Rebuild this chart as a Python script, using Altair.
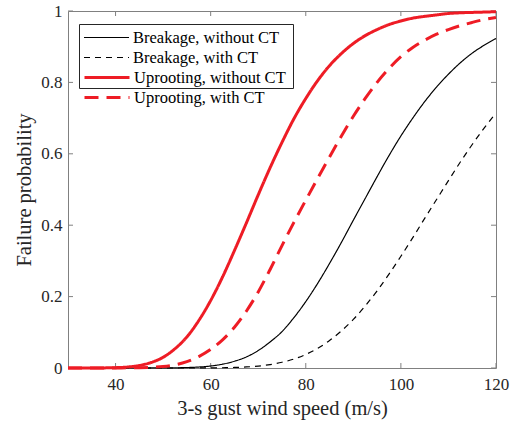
import altair as alt
import pandas as pd

# ---------------- data ----------------
speed = [30, 32.5, 35, 37.5, 40, 42.5, 45, 47.5, 50, 52.5, 55, 57.5, 60, 62.5,
         65, 67.5, 70, 72.5, 75, 77.5, 80, 82.5, 85, 87.5, 90, 92.5, 95, 97.5,
         100, 102.5, 105, 107.5, 110, 112.5, 115, 117.5, 120]

breakage_without_ct = [0, 0, 0, 0, 0, 0, 0, 0.0001, 0.0002, 0.0005, 0.0012, 0.0027,
                       0.0056, 0.0107, 0.019, 0.031, 0.049, 0.073, 0.102, 0.141, 0.186,
                       0.237, 0.293, 0.352, 0.414, 0.475, 0.536, 0.595, 0.650, 0.700,
                       0.746, 0.787, 0.823, 0.855, 0.882, 0.904, 0.923]

breakage_with_ct = [0, 0, 0, 0, 0, 0, 0, 0, 0, 0, 0, 0.0001, 0.0003, 0.0007, 0.0015,
                    0.0029, 0.0054, 0.0095, 0.016, 0.025, 0.038, 0.055, 0.077, 0.104,
                    0.136, 0.174, 0.216, 0.263, 0.313, 0.365, 0.419, 0.472, 0.525,
                    0.577, 0.626, 0.672, 0.714]

uprooting_without_ct = [0, 0, 0.0001, 0.0003, 0.001, 0.0028, 0.0071, 0.0155, 0.030,
                        0.054, 0.087, 0.133, 0.189, 0.255, 0.329, 0.406, 0.485,
                        0.561, 0.632, 0.698, 0.755, 0.805, 0.847, 0.881, 0.909,
                        0.931, 0.948, 0.962, 0.972, 0.980, 0.985, 0.989, 0.993,
                        0.995, 0.996, 0.997, 0.998]

uprooting_with_ct = [0, 0, 0, 0, 0.0002, 0.0005, 0.001, 0.002, 0.004, 0.009, 0.018,
                     0.032, 0.052, 0.079, 0.114, 0.159, 0.213, 0.276, 0.343, 0.408,
                     0.470, 0.531, 0.591, 0.650, 0.705, 0.755, 0.800, 0.839, 0.872,
                     0.898, 0.918, 0.935, 0.948, 0.959, 0.968, 0.976, 0.982]

series_names = ["Breakage, without CT", "Breakage, with CT",
                "Uprooting, without CT", "Uprooting, with CT"]

x_ticks = [40, 60, 80, 100, 120]
y_ticks = [0, 0.2, 0.4, 0.6, 0.8, 1]

# ---------------- tables ----------------
rows = []
for name, vals in zip(series_names, [breakage_without_ct, breakage_with_ct,
                                     uprooting_without_ct, uprooting_with_ct]):
    for s, v in zip(speed, vals):
        rows.append({"speed": s, "p": v, "series": name})
df = pd.DataFrame(rows)
xt = pd.DataFrame({"speed": x_ticks})
yt = pd.DataFrame({"p": y_ticks})

W, H = 428, 357
FONT = "Liberation Serif"
TXT = "#262626"
FRAME = "#808080"
RED = "#EE1C25"
black_names = series_names[:2]
red_names = series_names[2:]

x_enc = alt.X("speed:Q", scale=alt.Scale(domain=[30, 120], nice=False, zero=False),
              axis=alt.Axis(values=x_ticks, domain=False, ticks=False, grid=False,
                            labelFlush=False, labelOverlap=False, labelPadding=8,
                            labelFont=FONT, labelFontSize=17, labelColor=TXT,
                            title="3-s gust wind speed (m/s)", titleFont=FONT,
                            titleFontSize=20.5, titleFontWeight="normal",
                            titleColor=TXT, titlePadding=6))
y_enc = alt.Y("p:Q", scale=alt.Scale(domain=[0, 1], nice=False),
              axis=alt.Axis(values=y_ticks, domain=False, ticks=False, grid=False,
                            labelFlush=False, labelOverlap=False, labelPadding=6,
                            labelFont=FONT, labelFontSize=17, labelColor=TXT,
                            labelExpr="datum.value == 0 ? '0' : datum.value == 1 ? '1' : format(datum.value, '.1f')",
                            title="Failure probability", titleFont=FONT,
                            titleFontSize=20.5, titleFontWeight="normal",
                            titleColor=TXT, titlePadding=6))

common = dict(title=None, orient="none", legendX=11, symbolType="stroke",
              symbolSize=2025, labelFont=FONT, labelFontSize=16.5,
              labelColor="#000000", labelOffset=3, padding=4, rowPadding=1,
              clipHeight=19, labelLimit=300)
leg_black = alt.Legend(legendY=13, symbolStrokeWidth=1.2, **common)
leg_red = alt.Legend(legendY=53, symbolStrokeWidth=3, **common)
# the box around the legend: an entry-less frame of the same size
leg_frame = alt.Legend(title=None, orient="none", legendX=11, legendY=13,
                       symbolType="stroke", symbolSize=2025, symbolOpacity=0,
                       labelExpr="''", labelOffset=162, labelFontSize=16.5,
                       padding=2.3, rowPadding=1, clipHeight=19,
                       strokeColor="#262626")

base = alt.Chart(df)
black = base.transform_filter(
    alt.FieldOneOfPredicate(field="series", oneOf=black_names)
).mark_line(interpolate="monotone", strokeWidth=1.2).encode(
    x=x_enc, y=y_enc,
    color=alt.Color("series:N", scale=alt.Scale(domain=black_names,
                    range=["#000000", "#000000"]), legend=leg_black),
    strokeDash=alt.StrokeDash("series:N", scale=alt.Scale(domain=black_names,
                    range=[[1, 0], [6, 5]]), legend=leg_black),
)
red = base.transform_filter(
    alt.FieldOneOfPredicate(field="series", oneOf=red_names)
).mark_line(interpolate="monotone", strokeWidth=3).encode(
    x=x_enc, y=y_enc,
    color=alt.Color("series:N", scale=alt.Scale(domain=red_names,
                    range=[RED, RED]), legend=leg_red),
    strokeDash=alt.StrokeDash("series:N", scale=alt.Scale(domain=red_names,
                    range=[[1, 0], [14, 8]]), legend=leg_red),
)
frame = base.mark_line(strokeWidth=0).encode(
    x=x_enc, y=y_enc,
    opacity=alt.Opacity("series:N", scale=alt.Scale(domain=series_names,
                        range=[0, 0]), legend=leg_frame),
)

tick_style = dict(color=FRAME, strokeWidth=1)
xb = alt.Chart(xt).mark_rule(**tick_style).encode(x=x_enc, y=alt.value(H), y2=alt.value(H - 5))
xtop = alt.Chart(xt).mark_rule(**tick_style).encode(x=x_enc, y=alt.value(0), y2=alt.value(5))
yl = alt.Chart(yt).mark_rule(**tick_style).encode(y=y_enc, x=alt.value(0), x2=alt.value(5))
yr = alt.Chart(yt).mark_rule(**tick_style).encode(y=y_enc, x=alt.value(W - 5), x2=alt.value(W))

chart = alt.layer(xb, xtop, yl, yr, frame, black, red).resolve_scale(
    color="independent", strokeDash="independent", opacity="independent"
).properties(
    width=W, height=H,
    autosize=alt.AutoSizeParams(type="none"),
    padding={"left": 68, "top": 11, "right": 17, "bottom": 53},
    background="white",
).configure_view(stroke=FRAME, strokeWidth=1)

chart.save("out.html", embed_options={"renderer": "svg", "actions": False})
